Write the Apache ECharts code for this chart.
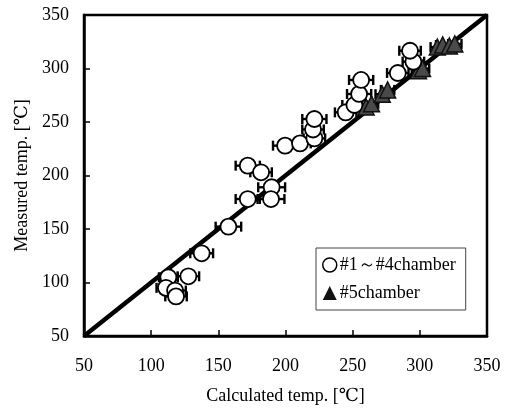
<!DOCTYPE html>
<html><head><meta charset="utf-8">
<script src="https://cdn.jsdelivr.net/npm/echarts@6/dist/echarts.min.js"></script>
<style>html,body{margin:0;padding:0;background:#fff}#c{width:507px;height:410px}</style>
</head><body><div id="c"></div>
<script>
// #1~#4 chamber (circles): calculated, measured, half error
const circX = [112.8, 111, 117.8, 118.5, 127.7, 137.6, 157.5, 171.9, 171.9, 181.8, 189.7, 189.2, 199.7, 210.8, 221.5, 220.5, 221.5, 244.8, 251.3, 254.8, 256.3, 283.6, 295.2, 292.7];
const circY = [104.9, 95, 92.5, 87, 105.8, 127.3, 152.2, 178, 209.2, 203, 189, 178, 227.9, 230, 234.7, 243, 252.8, 259, 265.9, 276.2, 289.3, 295.8, 306.4, 316.6];
const circErr = [7, 7, 8, 8, 8, 8.5, 9.5, 9, 9, 8, 10, 10, 9, 8, 8, 8, 9, 8, 9, 9, 9, 8, 8, 8];
// #5 chamber (triangles)
const triX = [260, 264, 272, 276, 299, 302, 313, 317, 322, 326];
const triY = [264, 267, 276, 280, 298, 300, 320, 322, 321, 323];
const triErr = [5, 5, 5, 5, 5, 5, 5, 5, 5, 5];
// reference line y = x
const refLine = [[50, 50], [350, 350]];
const axisMin = 50, axisMax = 350, axisStep = 50;
const legendNames = ['#1～#4chamber', '#5chamber'];

const chart = echarts.init(document.getElementById('c'));
const serif = '"Liberation Serif", "DejaVu Serif", serif';

function errItem(params, api) {
  const x = api.value(0), y = api.value(1), e = api.value(2);
  const p1 = api.coord([x - e, y]);
  const p2 = api.coord([x + e, y]);
  const h = 5;
  const st = {stroke: '#000', lineWidth: 2.4};
  return {type: 'group', children: [
    {type: 'line', shape: {x1: p1[0], y1: p1[1], x2: p2[0], y2: p2[1]}, style: st},
    {type: 'line', shape: {x1: p1[0], y1: p1[1] - h, x2: p1[0], y2: p1[1] + h}, style: st},
    {type: 'line', shape: {x1: p2[0], y1: p2[1] - h, x2: p2[0], y2: p2[1] + h}, style: st}
  ]};
}

const circData = circX.map((x, i) => [x, circY[i], circErr[i]]);
const triData = triX.map((x, i) => [x, triY[i], triErr[i]]);

chart.setOption({
  animation: false,
  backgroundColor: '#fff',
  grid: {left: 84, right: 20, top: 15, bottom: 73, show: true, borderColor: '#000', borderWidth: 2.5, backgroundColor: 'transparent'},
  xAxis: {
    type: 'value', min: axisMin, max: axisMax, interval: axisStep,
    name: 'Calculated temp. [℃]', nameLocation: 'middle', nameGap: 51,
    nameTextStyle: {fontFamily: serif, fontSize: 18, color: '#000'},
    axisLine: {show: true, lineStyle: {color: '#000', width: 2.5}},
    axisTick: {inside: true, length: 6, lineStyle: {color: '#000', width: 1.5}},
    axisLabel: {fontFamily: serif, fontSize: 18, color: '#000', margin: 21},
    splitLine: {show: false}
  },
  yAxis: {
    type: 'value', min: axisMin, max: axisMax, interval: axisStep,
    name: 'Measured temp. [℃]', nameLocation: 'middle', nameGap: 50, nameRotate: 90,
    nameTextStyle: {fontFamily: serif, fontSize: 18, color: '#000'},
    axisLine: {show: true, lineStyle: {color: '#000', width: 2.5}},
    axisTick: {inside: true, length: 6, lineStyle: {color: '#000', width: 1.5}},
    axisLabel: {fontFamily: serif, fontSize: 18, color: '#000', margin: 15},
    splitLine: {show: false}
  },
  legend: {
    left: 316, top: 248, orient: 'vertical', itemGap: 10, itemWidth: 14, itemHeight: 14,
    padding: [8, 10, 8, 6],
    borderColor: '#444', borderWidth: 1, backgroundColor: '#fff',
    textStyle: {fontFamily: serif, fontSize: 18, color: '#000', padding: [0, 0, 0, -2]},
    data: [
      {name: legendNames[0], icon: 'circle', itemStyle: {color: '#fff', borderColor: '#000', borderWidth: 1.5}},
      {name: legendNames[1], icon: 'triangle', itemStyle: {color: '#111', borderWidth: 0}}
    ]
  },
  series: [
    {type: 'line', data: refLine, showSymbol: false, symbol: 'none', lineStyle: {color: '#000', width: 4.5}, z: 1, silent: true},
    {type: 'custom', name: 'errC', data: circData, renderItem: errItem, z: 2, encode: {x: 0, y: 1}},
    {type: 'custom', name: 'errT', data: triData, renderItem: errItem, z: 2, encode: {x: 0, y: 1}},
    {type: 'scatter', name: legendNames[1], data: triData, symbol: 'triangle', symbolSize: 16,
     itemStyle: {color: '#4a4a4a', borderColor: '#111', borderWidth: 1.5, opacity: 1}, z: 3},
    {type: 'scatter', name: legendNames[0], data: circData, symbol: 'circle', symbolSize: 16,
     itemStyle: {color: '#fff', borderColor: '#000', borderWidth: 1.8, opacity: 1}, z: 4}
  ]
});
</script></body></html>
